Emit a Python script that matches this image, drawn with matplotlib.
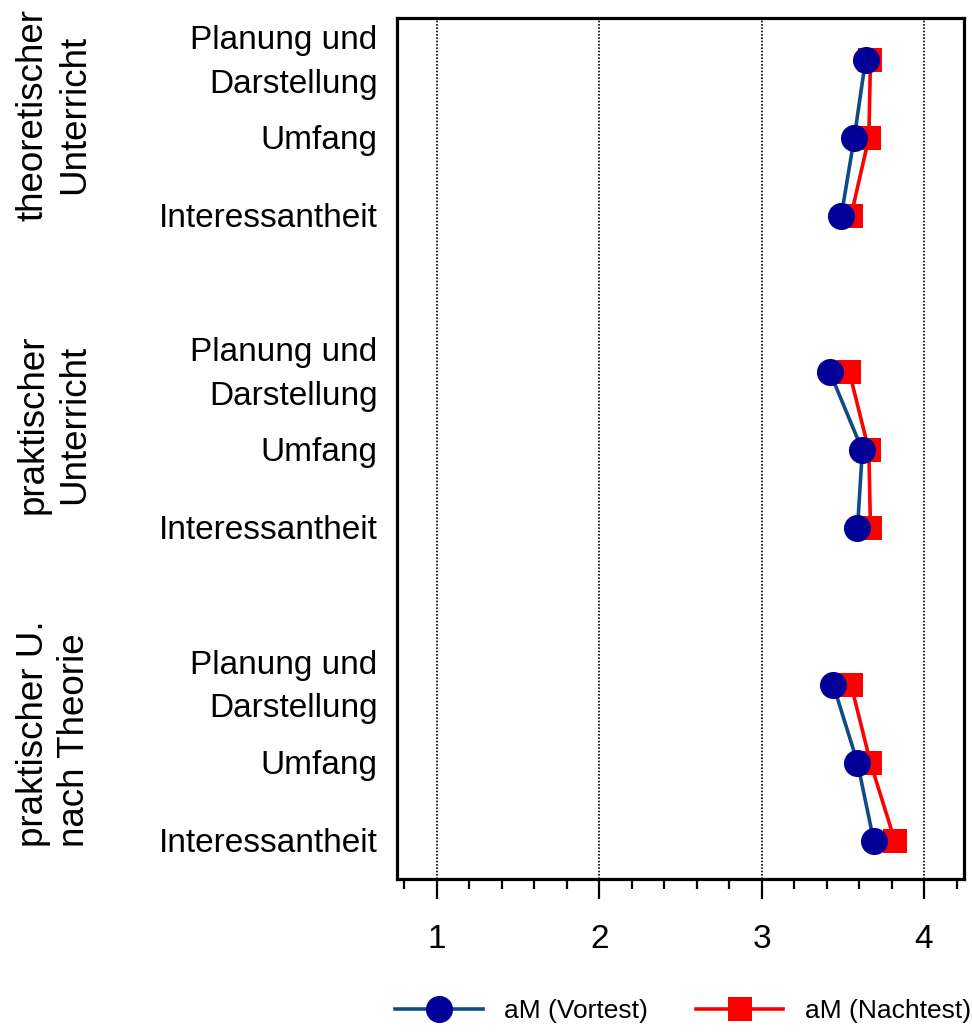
import matplotlib
matplotlib.use("Agg")
import matplotlib.pyplot as plt
from matplotlib.ticker import MultipleLocator
from matplotlib.transforms import blended_transform_factory, ScaledTranslation
import numpy as np

plt.rcParams['font.family'] = ['Liberation Sans', 'DejaVu Sans']

groups = ["theoretischer\nUnterricht", "praktischer\nUnterricht", "praktischer U.\nnach Theorie"]
items = ["Planung und\nDarstellung", "Umfang", "Interessantheit"]

# aM values per group (rows: Planung/Darstellung, Umfang, Interessantheit)
vortest = [[3.64, 3.57, 3.49],
           [3.42, 3.62, 3.59],
           [3.44, 3.59, 3.69]]
nachtest = [[3.67, 3.66, 3.55],
            [3.54, 3.66, 3.67],
            [3.55, 3.67, 3.82]]

blue_line = "#0f4c85"
blue_mark = "#000099"
red = "#ff0000"

fig = plt.figure(figsize=(9.72, 10.32), dpi=100)
ax = fig.add_axes([397/972, 1-879/1032, (964-397)/972, (879-18)/1032])

ypos_all = []
for g in range(len(groups)):
    ypos = [g*4 + i for i in range(len(items))]
    ypos_all += ypos
    l_n, = ax.plot(nachtest[g], ypos, color=red, lw=2.6, marker="s", ms=17.5,
                   mfc=red, mec=red, mew=0, label="aM (Nachtest)", zorder=3)
    l_v, = ax.plot(vortest[g], ypos, color=blue_line, lw=2.6, marker="o", ms=19.5,
                   mfc=blue_mark, mec=blue_mark, mew=0, label="aM (Vortest)", zorder=4)

ax.set_xlim(0.754, 4.246)
ax.set_ylim(10.49, -0.535)
ax.set_yticks(ypos_all)
ax.tick_params(axis="y", length=0, pad=14, labelsize=24)
ax.set_yticklabels(items * len(groups), linespacing=1.52, va="center")
# nudge the row labels down a little
shift = ScaledTranslation(0, -2.5/100, fig.dpi_scale_trans)
for lab in ax.get_yticklabels():
    lab.set_transform(lab.get_transform() + shift)

ax.xaxis.set_major_locator(MultipleLocator(1))
ax.xaxis.set_minor_locator(MultipleLocator(0.2))
ax.tick_params(axis="x", which="major", length=14.4, width=1.6, pad=18, labelsize=24, direction="out")
ax.tick_params(axis="x", which="minor", length=7.2, width=1.6, direction="out")

for x in [1, 2, 3, 4]:
    ax.axvline(x, color="black", lw=1.2, ls=(0, (1, 1)), zorder=1)

for sp in ax.spines.values():
    sp.set_linewidth(2.3)

# group labels on the far left
trans = blended_transform_factory(fig.transFigure, ax.transData)
label_y = [0.705, 4.67, 8.63]
label_align = ["center", "center", "left"]
for g, name in enumerate(groups):
    fig.text(0.0555, label_y[g], name, rotation=90, ha="center", va="center",
             multialignment=label_align[g], fontsize=26.5, linespacing=1.22,
             transform=trans)

fig.legend(handles=[l_v, l_n], loc="center", bbox_to_anchor=(0.7027, 0.0200), ncol=2,
           frameon=False, fontsize=19, handlelength=3.3, handletextpad=0.8,
           columnspacing=1.85, borderpad=0, borderaxespad=0)

fig.savefig("out.png", dpi=100)
